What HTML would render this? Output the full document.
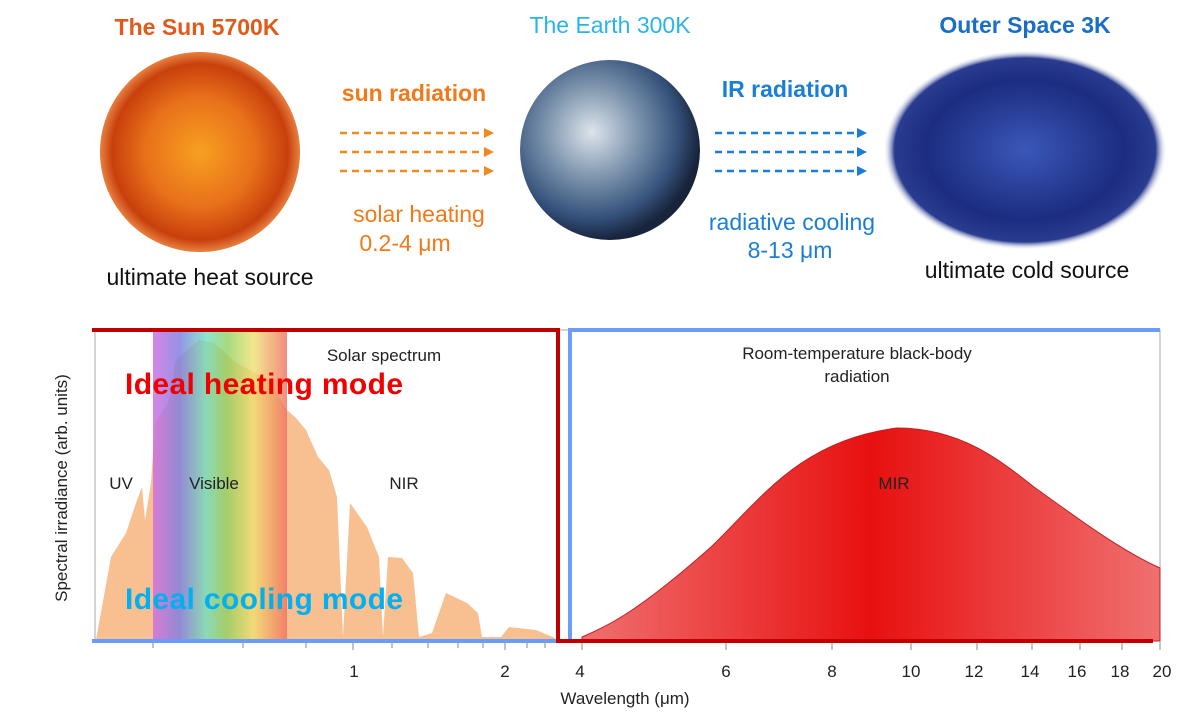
<!DOCTYPE html>
<html><head><meta charset="utf-8"><style>
html,body{margin:0;padding:0;background:#fff;width:1183px;height:712px;overflow:hidden}
svg{display:block;font-family:"Liberation Sans",Arial,sans-serif}
</style></head><body>
<svg width="1183" height="712" viewBox="0 0 1183 712" xmlns="http://www.w3.org/2000/svg">
<defs>
<radialGradient id="sun" cx="50%" cy="50%" r="50%">
<stop offset="0" stop-color="#f7a020"/><stop offset="0.55" stop-color="#e8701a"/><stop offset="0.88" stop-color="#c8400c"/><stop offset="1" stop-color="#e88040"/></radialGradient>
<radialGradient id="earth" cx="40%" cy="40%" r="60%">
<stop offset="0" stop-color="#dde4ea"/><stop offset="0.45" stop-color="#7890aa"/><stop offset="0.8" stop-color="#34507a"/><stop offset="1" stop-color="#18243c"/></radialGradient>
<radialGradient id="space" cx="50%" cy="50%" r="50%">
<stop offset="0" stop-color="#3a58b8"/><stop offset="0.7" stop-color="#1c2c80"/><stop offset="0.92" stop-color="#2a3c90"/><stop offset="1" stop-color="#ffffff" stop-opacity="0"/></radialGradient>
<linearGradient id="rain" x1="0" x2="1" y1="0" y2="0">
<stop offset="0" stop-color="#d070e0" stop-opacity="0.85"/><stop offset="0.2" stop-color="#8080e0" stop-opacity="0.85"/><stop offset="0.4" stop-color="#70e0c0" stop-opacity="0.8"/><stop offset="0.55" stop-color="#90d060" stop-opacity="0.8"/><stop offset="0.75" stop-color="#f0e070" stop-opacity="0.8"/><stop offset="1" stop-color="#f07060" stop-opacity="0.8"/></linearGradient>
<linearGradient id="bb" x1="0" x2="1" y1="0" y2="0">
<stop offset="0" stop-color="#f07070"/><stop offset="0.5" stop-color="#e81010"/><stop offset="1" stop-color="#f07070"/></linearGradient>
</defs>
<!-- top -->
<text x="197" y="35" text-anchor="middle" font-size="23" font-weight="bold" fill="#e05a1a">The Sun 5700K</text>
<text x="610" y="33" text-anchor="middle" font-size="23" fill="#29b5e8">The Earth 300K</text>
<text x="1025" y="33" text-anchor="middle" font-size="23" font-weight="bold" fill="#1a6fc4">Outer Space 3K</text>
<circle cx="200" cy="152" r="100" fill="url(#sun)"/>
<circle cx="610" cy="150" r="90" fill="url(#earth)"/>
<ellipse cx="1025" cy="150" rx="142" ry="100" fill="url(#space)"/>
<text x="414" y="101" text-anchor="middle" font-size="23" font-weight="bold" fill="#f07a1a">sun radiation</text>
<g stroke="#f08a20" stroke-width="2.5" stroke-dasharray="7,5" fill="#f08a20">
<line x1="340" y1="133" x2="485" y2="133"/><line x1="340" y1="152" x2="485" y2="152"/><line x1="340" y1="171" x2="485" y2="171"/></g>
<g fill="#f08a20"><polygon points="484,128 494,133 484,138"/><polygon points="484,147 494,152 484,157"/><polygon points="484,166 494,171 484,176"/></g>
<text x="419" y="222" text-anchor="middle" font-size="23" fill="#f07a1a">solar heating</text>
<text x="405" y="251" text-anchor="middle" font-size="23" fill="#f07a1a">0.2-4 μm</text>
<text x="785" y="97" text-anchor="middle" font-size="23" font-weight="bold" fill="#1a7fd4">IR  radiation</text>
<g stroke="#1a7fd4" stroke-width="2.5" stroke-dasharray="7,5"><line x1="715" y1="133" x2="858" y2="133"/><line x1="715" y1="152" x2="858" y2="152"/><line x1="715" y1="171" x2="858" y2="171"/></g>
<g fill="#1a7fd4"><polygon points="857,128 867,133 857,138"/><polygon points="857,147 867,152 857,157"/><polygon points="857,166 867,171 857,176"/></g>
<text x="792" y="230" text-anchor="middle" font-size="23" fill="#1a7fd4">radiative cooling</text>
<text x="790" y="258" text-anchor="middle" font-size="23" fill="#1a7fd4">8-13 μm</text>
<text x="210" y="285" text-anchor="middle" font-size="23" fill="#111">ultimate heat source</text>
<text x="1027" y="278" text-anchor="middle" font-size="23" fill="#111">ultimate cold source</text>
<!-- plot -->
<rect x="95" y="330" width="1065" height="311" fill="none" stroke="#aaa" stroke-width="1"/>
<polygon fill="#f8c090" points="96,640 111,557 126,533 136,503 142,487 145,520 151,483 155,423 168,403 176,360 199,340 214,343 237,363 268,380 287,410 295,417 306,430 318,457 329,470 337,497 343,637 350,503 367,527 379,557 383,637 388,557 402,558 413,573 419,637 432,633 446,593 467,603 478,613 482,637 501,637 509,627 536,630 555,638 555,641 96,641"/>
<rect x="153" y="331" width="134" height="309" fill="url(#rain)"/>
<path d="M582,637 C610,625 640,610 711,547 C760,500 800,440 897,428 C960,428 1000,460 1034,487 C1080,520 1120,550 1160,568 L1160,641 L582,641 Z" fill="url(#bb)" stroke="#c02020" stroke-width="1"/>
<text x="384" y="361" text-anchor="middle" font-size="17" fill="#222">Solar spectrum</text>
<text x="857" y="359" text-anchor="middle" font-size="17" fill="#222">Room-temperature black-body</text>
<text x="857" y="382" text-anchor="middle" font-size="17" fill="#222">radiation</text>
<text x="121" y="489" text-anchor="middle" font-size="17" fill="#222">UV</text>
<text x="214" y="489" text-anchor="middle" font-size="17" fill="#222">Visible</text>
<text x="404" y="489" text-anchor="middle" font-size="17" fill="#222">NIR</text>
<text x="894" y="489" text-anchor="middle" font-size="17" fill="#222">MIR</text>
<text x="125" y="394" font-size="30" font-weight="bold" fill="#f00000" textLength="278">Ideal heating mode</text>
<text x="125" y="609" font-size="30" font-weight="bold" fill="#00b0f0" textLength="278">Ideal cooling mode</text>
<text transform="translate(67,488) rotate(-90)" text-anchor="middle" font-size="17" fill="#222">Spectral irradiance (arb. units)</text>
<!-- ticks -->
<g stroke="#888" stroke-width="1">
<line x1="153" y1="642" x2="153" y2="648"/><line x1="243" y1="642" x2="243" y2="648"/><line x1="306" y1="642" x2="306" y2="648"/><line x1="353" y1="642" x2="353" y2="650"/><line x1="392" y1="642" x2="392" y2="648"/><line x1="428" y1="642" x2="428" y2="648"/><line x1="458" y1="642" x2="458" y2="648"/><line x1="483" y1="642" x2="483" y2="648"/><line x1="505" y1="642" x2="505" y2="650"/><line x1="527" y1="642" x2="527" y2="648"/><line x1="545" y1="642" x2="545" y2="648"/>
<line x1="582" y1="642" x2="582" y2="650"/><line x1="726" y1="642" x2="726" y2="650"/><line x1="832" y1="642" x2="832" y2="650"/><line x1="911" y1="642" x2="911" y2="650"/><line x1="977" y1="642" x2="977" y2="650"/><line x1="1032" y1="642" x2="1032" y2="650"/><line x1="1080" y1="642" x2="1080" y2="650"/><line x1="1122" y1="642" x2="1122" y2="650"/><line x1="1160" y1="642" x2="1160" y2="650"/>
</g>
<g font-size="17" fill="#222" text-anchor="middle">
<text x="354" y="677">1</text><text x="505" y="677">2</text><text x="580" y="677">4</text><text x="726" y="677">6</text><text x="832" y="677">8</text><text x="911" y="677">10</text><text x="974" y="677">12</text><text x="1030" y="677">14</text><text x="1077" y="677">16</text><text x="1120" y="677">18</text><text x="1162" y="677">20</text>
<text x="625" y="704">Wavelength (μm)</text></g>
<!-- boxes -->
<polyline points="92,330 558,330 558,642" fill="none" stroke="#c00000" stroke-width="4"/>
<line x1="92" y1="641" x2="556" y2="641" stroke="#6a9cf8" stroke-width="4"/>
<polyline points="570,642 570,330 1160,330" fill="none" stroke="#6a9cf8" stroke-width="4"/>
<line x1="556" y1="641" x2="1153" y2="641" stroke="#c00000" stroke-width="4"/>
</svg>
</body></html>
